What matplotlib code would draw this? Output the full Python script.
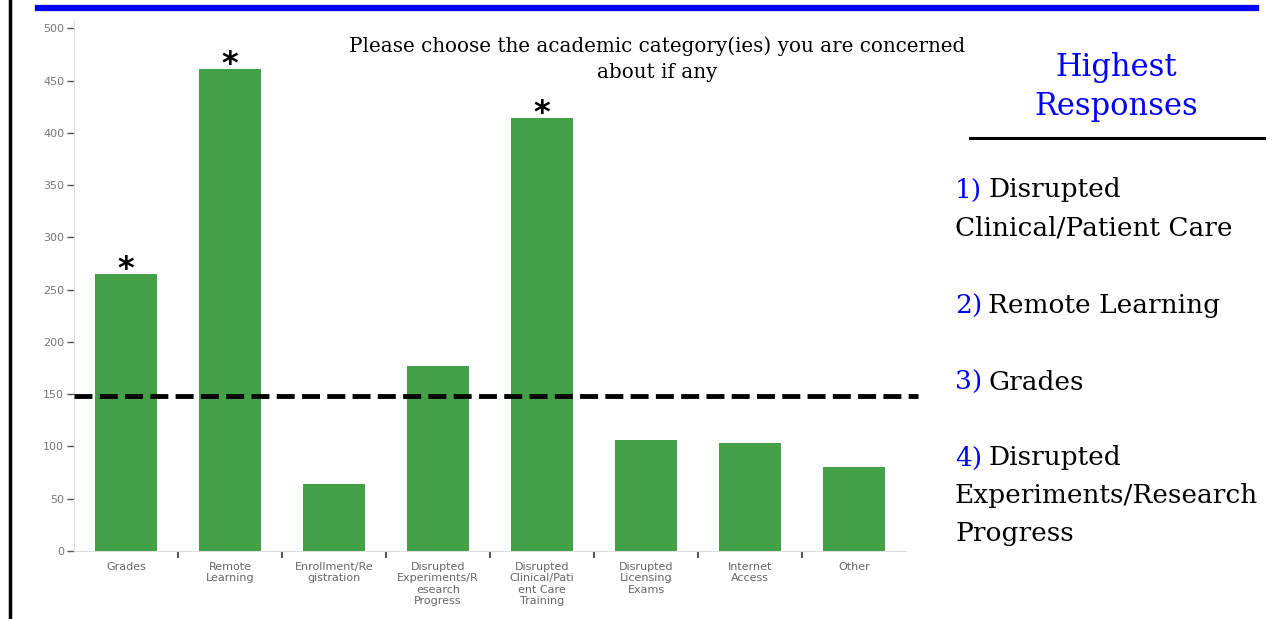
import matplotlib
matplotlib.use("Agg")
import matplotlib.pyplot as plt
from matplotlib.lines import Line2D

categories = ["Grades", "Remote\nLearning", "Enrollment/Re\ngistration",
              "Disrupted\nExperiments/R\nesearch\nProgress",
              "Disrupted\nClinical/Pati\nent Care\nTraining",
              "Disrupted\nLicensing\nExams", "Internet\nAccess", "Other"]
values = [265, 461, 64, 177, 414, 106, 103, 80]
starred = [0, 1, 4]
threshold = 148
yticks = [0, 50, 100, 150, 200, 250, 300, 350, 400, 450, 500]
title = "Please choose the academic category(ies) you are concerned\nabout if any"
side_title = "Highest\nResponses"
ranks = ["1)", "2)", "3)", "4)"]
rank_text = ["Disrupted\nClinical/Patient Care", "Remote Learning", "Grades",
             "Disrupted\nExperiments/Research\nProgress"]

W, H = 1276, 619
fig = plt.figure(figsize=(W / 100, H / 100), dpi=100)

def fx(px):
    return px / W

def fy(py):
    return 1 - py / H

# decorations
fig.add_artist(Line2D([fx(10), fx(10)], [0, 1], color="black", lw=2.5))
fig.add_artist(Line2D([fx(38), fx(1256)], [fy(7.5), fy(7.5)], color="#0000ff", lw=4.5))
fig.add_artist(Line2D([fx(970), fx(1264)], [fy(138), fy(138)], color="black", lw=2.2))

ax = fig.add_axes([fx(74), fy(551), fx(906) - fx(74), (551 - 20) / H])
x = list(range(len(categories)))
ax.bar(x, values, width=0.6, color="#43a047", zorder=2)
ax.set_xlim(-0.5, 7.5)
ax.set_ylim(0, 508)
ax.set_yticks(yticks)
ax.set_xticks(x)
ax.set_xticklabels(categories, fontsize=8, color="#666666", linespacing=1.15)
ax.set_xticks([i + 0.5 for i in range(len(categories) - 1)], minor=True)
ax.tick_params(axis="x", which="major", length=0, pad=8)
ax.tick_params(axis="x", which="minor", length=5, width=1.2, color="#333333")
ax.tick_params(axis="y", length=5, width=1, color="#555555", labelsize=8,
               labelcolor="#777777", pad=2)
for s in ["top", "right"]:
    ax.spines[s].set_visible(False)
ax.spines["left"].set_color("#dddddd")
ax.spines["bottom"].set_color("#dddddd")

ax.plot([-0.5, 7.62], [threshold, threshold], color="black", lw=3.5,
        dashes=(3.7, 1.5), clip_on=False, zorder=3)

for i in starred:
    ax.annotate("*", (i, values[i]), xytext=(0, -8), textcoords="offset points",
                ha="center", va="bottom", fontsize=23, fontweight="bold",
                color="black")

fig.text(fx(657), fy(59), title, ha="center", va="center", fontsize=14.3,
         family="DejaVu Serif", linespacing=1.5)
fig.text(fx(1116), fy(87), side_title, ha="center", va="center", fontsize=22,
         family="DejaVu Serif", color="#0000ff", linespacing=1.35)

ypos = [190, 306, 382, 458]
for r, t, yp in zip(ranks, rank_text, ypos):
    lines = t.split("\n")
    t1 = fig.text(fx(955), fy(yp), r, ha="left", va="center", fontsize=19,
                  family="DejaVu Serif", color="#0000ff")
    fig.canvas.draw()
    bb = t1.get_window_extent()
    fig.text(bb.x1 / W + fx(6), fy(yp), lines[0], ha="left", va="center",
             fontsize=19, family="DejaVu Serif", color="black")
    for k, ln in enumerate(lines[1:], 1):
        fig.text(fx(955), fy(yp + 38 * k), ln, ha="left", va="center",
                 fontsize=19, family="DejaVu Serif", color="black")

fig.savefig("out.png", dpi=100)
